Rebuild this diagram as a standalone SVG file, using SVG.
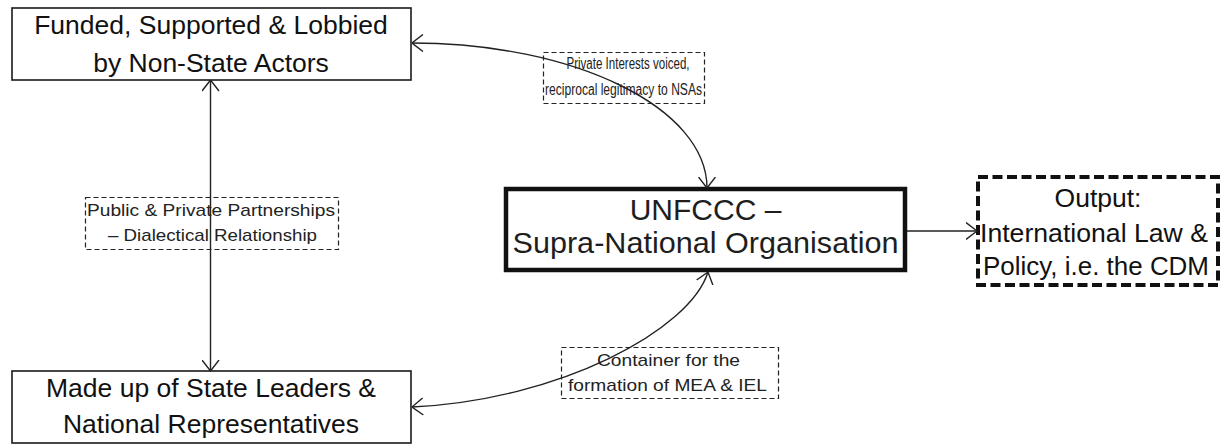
<svg xmlns="http://www.w3.org/2000/svg" width="1223" height="444" viewBox="0 0 1223 444">
<defs>
<style>
.box{fill:#fff;stroke:#1a1a1a;stroke-width:1.6}
.thick{fill:#fff;stroke:#111;stroke-width:4.5}
.out{fill:#fff;stroke:#111;stroke-width:4;stroke-dasharray:10 4.5}
.lbl{fill:none;stroke:#222;stroke-width:1.2;stroke-dasharray:5 3}
.t{font-family:"Liberation Sans",Arial,sans-serif;fill:#111;text-anchor:middle}
.big{font-size:26.5px}
.mid{font-size:30px;fill:#1e1e1e}
.small{font-size:17px;fill:#222}
.tiny{font-size:16px;fill:#222}
.conn{fill:none;stroke:#222;stroke-width:1.4}
</style>
<marker id="arr" viewBox="0 0 12 18" refX="11.5" refY="9" markerWidth="12" markerHeight="18" markerUnits="userSpaceOnUse" orient="auto-start-reverse">
<path d="M0.5,0.5 L11.5,9 L0.5,17.5" fill="none" stroke="#222" stroke-width="1.4"/>
</marker>
</defs>
<rect width="1223" height="444" fill="#fff"/>

<g id="node-nsa">
<rect class="box" x="12" y="8" width="399" height="72"/>
<text class="t big" x="211" y="34">Funded, Supported &amp; Lobbied</text>
<text class="t big" x="211" y="72">by Non-State Actors</text>
</g>

<g id="node-state">
<rect class="box" x="12" y="371" width="399" height="72"/>
<text class="t big" x="211" y="397">Made up of State Leaders &amp;</text>
<text class="t big" x="211" y="433">National Representatives</text>
</g>

<g id="node-unfccc">
<rect class="thick" x="506" y="189" width="399" height="81"/>
<text class="t mid" x="705.5" y="220">UNFCCC –</text>
<text class="t mid" x="705.5" y="253" textLength="386" lengthAdjust="spacingAndGlyphs">Supra-National Organisation</text>
</g>

<g id="node-output">
<rect class="out" x="978" y="177" width="240" height="108"/>
<text class="t big" x="1098" y="207">Output:</text>
<text class="t big" x="1094" y="242" textLength="228" lengthAdjust="spacingAndGlyphs">International Law &amp;</text>
<text class="t big" x="1096" y="275" textLength="226" lengthAdjust="spacingAndGlyphs">Policy, i.e. the CDM</text>
</g>

<g id="label-ppp">
<rect class="lbl" x="85.5" y="197.5" width="253" height="52"/>
<text class="t small" x="211" y="216" textLength="248" lengthAdjust="spacingAndGlyphs">Public &amp; Private Partnerships</text>
<text class="t small" x="212.5" y="241" textLength="209" lengthAdjust="spacingAndGlyphs">– Dialectical Relationship</text>
</g>

<g id="label-private">
<rect class="lbl" x="543.5" y="52.5" width="161" height="51"/>
<text class="t tiny" x="628" y="69" textLength="123" lengthAdjust="spacingAndGlyphs">Private Interests voiced,</text>
<text class="t tiny" x="623.5" y="95" textLength="157" lengthAdjust="spacingAndGlyphs">reciprocal legitimacy to NSAs</text>
</g>

<g id="label-container">
<rect class="lbl" x="561.5" y="347.5" width="217" height="51"/>
<text class="t small" x="668.5" y="366" textLength="143" lengthAdjust="spacingAndGlyphs">Container for the</text>
<text class="t small" x="667.5" y="391" textLength="199" lengthAdjust="spacingAndGlyphs">formation of MEA &amp; IEL</text>
</g>

<g id="connectors">
<path class="conn" d="M210.5,80 L210.5,371" marker-start="url(#arr)" marker-end="url(#arr)"/>
<path class="conn" d="M412,43 C575,43 707,108 707,188" marker-start="url(#arr)" marker-end="url(#arr)"/>
<path class="conn" d="M708,272 C690,330 560,400 412,407" marker-start="url(#arr)" marker-end="url(#arr)"/>
<path class="conn" d="M907,231 L977,231" marker-end="url(#arr)"/>
</g>
</svg>
